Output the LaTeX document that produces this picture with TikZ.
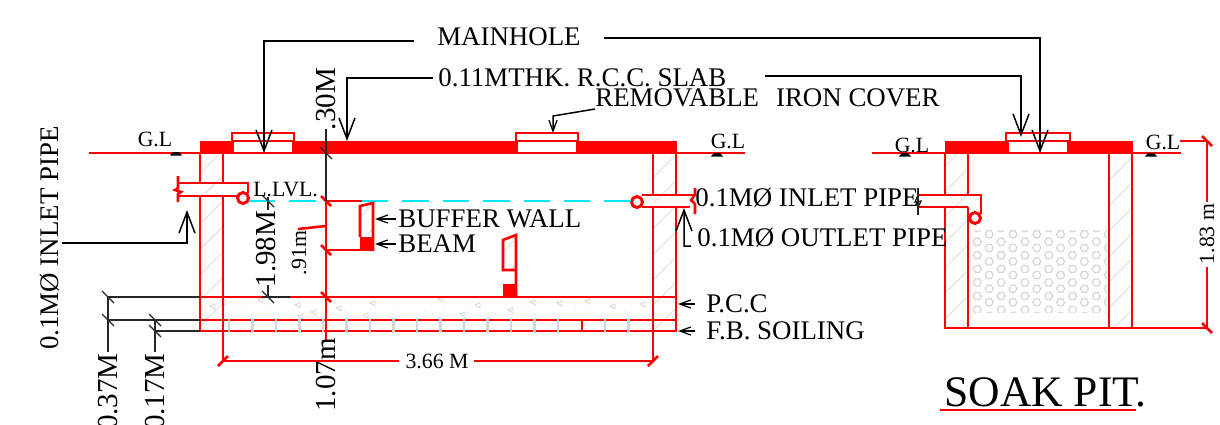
\documentclass[tikz,border=0pt]{standalone}
\usepackage{fontspec}
\setmainfont{Liberation Serif}
\usetikzlibrary{arrows.meta,patterns.meta}
\definecolor{hatchgray}{gray}{0.84}
\definecolor{levelcyan}{RGB}{0,235,245}
\newcommand{\stone}[2]{\draw[hatchgray,line width=0.7pt] (#1+4,#2) -- (#1+2,#2+3.5) -- (#1-2,#2+3.5) -- (#1-4,#2) -- (#1-2,#2-3.5) -- (#1+2,#2-3.5) -- cycle;}
\tikzset{
  big/.style={inner sep=0pt,font=\fontsize{15.3}{15.3}\selectfont},
  tall/.style={inner sep=0pt,rotate=90,font=\fontsize{16.5}{16.5}\selectfont},
  small/.style={inner sep=0pt,font=\fontsize{12.4}{12.4}\selectfont},
  wall/.style={red,line width=1.45pt},
  thin black/.style={black!85,line width=0.75pt},
  leader/.style={black,line width=0.85pt},
  bigtip/.style={-{Straight Barb[length=0.42cm,width=0.32cm,line width=0.85pt]}},
  smalltip/.style={-{Straight Barb[length=0.22cm,width=0.16cm,line width=0.7pt]}},
  hatch/.style={pattern={Lines[angle=45,distance=0.36cm,line width=0.4pt]},pattern color=hatchgray},
  speck/.style={hatchgray,line width=0.5pt}
}
\begin{document}
\begin{tikzpicture}[x=0.02cm,y=-0.02cm]
  \clip (0,0) rectangle (1220,424);
  % wall hatching
  \path[hatch] (200,153) rectangle (223,331);
  \path[hatch] (653,153) rectangle (676,331);
  \path[hatch] (945,153) rectangle (968,328);
  \path[hatch] (1109,153) rectangle (1132,328);
  \path[hatch] (503,240) -- (516,235) -- (516,270) -- (503,270) -- cycle;
  \path[hatch] (360,206) -- (373,203) -- (373,237) -- (360,237) -- cycle;
  % stones in the pit
  \begin{scope}
    \clip (970,230.5) rectangle (1107,312.5);
    \foreach \col in {0,...,5}
      \foreach \row in {0,...,6}{
        \stone{977.3+\col*23.8}{228.1+\row*13.6}
        \stone{989.2+\col*23.8}{234.3+\row*13.6}
      }
  \end{scope}
  % p.c.c. specks
  \foreach \a/\b in {210/306,221/302,295/305,311/312,370/303,438/299,460/314,475/305,508/310,530/302,557/303,585/301,610/306,640/304,363/315,336/308,258/300,298/316}
    \draw[speck] (\a,\b) -- ++(5,-2) -- ++(0,5) -- cycle;
  \foreach \a/\b in {240/311,252/314,268/309,282/313,345/311,352/316,395/309,410/315,425/311,445/308,490/313,520/311,547/316,575/309,600/314,625/311,660/315,668/302}
    \fill[hatchgray] (\a,\b) circle (0.7);

  % main tank
  \fill[red] (200,141) rectangle (677,153);
  \draw[wall] (89,153) -- (745,153);
  \draw[wall] (200,153) -- (200,183);
  \draw[wall] (200,196) -- (200,331) -- (676,331) -- (676,207);
  \draw[wall] (676,195) -- (676,153);
  \draw[wall] (223,153) -- (223,183);
  \draw[wall] (223,196) -- (223,361);
  \draw[wall] (653,153) -- (653,195);
  \draw[wall] (653,207) -- (653,361);
  \draw[wall] (200,297) -- (676,297);
  \draw[wall] (200,320) -- (676,320);
  \draw[wall] (582,320) -- (582,331);
  \foreach \i in {0,...,14,16,17}
    \draw[hatchgray,line width=1.2pt] (229+\i*23.5,318.5) -- (229+\i*23.5,332.5);
  % covers
  \foreach \a in {232,516}{
    \draw[wall,fill=white] (\a,133) rectangle (\a+62,141);
    \draw[wall,fill=white] (\a+1,141) rectangle (\a+61,153);
  }
  % pipes
  \draw[wall] (178,183) -- (248,183) -- (248,193);
  \draw[wall] (178,196) -- (237,196);
  \draw[wall] (178,176) -- (178,188) -- (175,190) -- (181,192) -- (178,194) -- (178,202);
  \draw[wall,line width=1.7pt,fill=white] (243,198) circle (5.5);
  \draw[wall] (642,195) -- (695,195);
  \draw[wall] (642,207) -- (690,207);
  \draw[wall] (695,188) -- (695,195) -- (691,200) -- (695,204) -- (695,214);
  \draw[wall,line width=1.7pt,fill=white] (637,202) circle (5.5);
  % liquid level
  \draw[levelcyan,line width=1pt,dash pattern=on 15pt off 8pt] (249,201) -- (326,201);
  \draw[levelcyan,line width=1pt,dash pattern=on 15pt off 8pt] (362,201) -- (632,201);
  % buffer walls
  \draw[wall] (326,201) -- (362,201);
  \draw[wall] (326,250) -- (360,250);
  \draw[wall] (298,229) -- (326,226);
  \draw[wall] (326,201) -- (326,340);
  \draw[wall] (360,237) -- (360,206) -- (373,203) -- (373,251);
  \fill[red] (360,237) rectangle (373,251);
  \draw[wall] (516,297) -- (516,235) -- (503,240) -- (503,270) -- (516,270);
  \fill[red] (503,284) rectangle (516,297);
  % dimensions in red
  \draw[wall] (223,361) -- (399,361);
  \draw[wall] (474,361) -- (653,361);
  \foreach \a/\b in {326/201,326/250,326/297}
    \draw[wall] (\a-5,\b-5) -- (\a+5,\b+5);
  \foreach \a/\b in {223/361,653/361}
    \draw[wall] (\a-5,\b+5) -- (\a+5,\b-5);

  % soak pit
  \fill[red] (945,141) rectangle (1133,153);
  \draw[wall] (872,153) -- (1181,153);
  \draw[wall] (945,153) -- (945,195);
  \draw[wall] (945,207) -- (945,328) -- (1207,328);
  \draw[wall] (968,153) -- (968,195);
  \draw[wall] (968,207) -- (968,328);
  \draw[wall] (1109,153) -- (1109,328);
  \draw[wall] (1132,153) -- (1132,328);
  \draw[wall,fill=white] (1006,133) rectangle (1070,141);
  \draw[wall,fill=white] (1008,141) rectangle (1068,153);
  \draw[wall] (918,195) -- (981,195) -- (981,214);
  \draw[wall] (918,207) -- (968,207);
  \draw[wall,line width=1.7pt,fill=white] (975,218) circle (5.5);
  \draw[wall] (1180,141) -- (1207,141) -- (1207,202);
  \draw[wall] (1207,267) -- (1207,328);
  \foreach \a/\b in {1207/141,1207/328}
    \draw[wall] (\a-5,\b-5) -- (\a+5,\b+5);

  % ground marks
  \foreach \a/\b in {176/154,717/155,905/155,1151/155}
    \fill[black] (\a-6,\b+1.5) -- (\a-3,\b-2) -- (\a+3,\b-2) -- (\a+6,\b+1.5) -- cycle;

  % black dimension lines
  \draw[thin black] (326,129) -- (326,201);
  \draw[thin black] (268,197) -- (268,210);
  \draw[thin black] (268,285) -- (268,297);
  \draw[thin black] (262,297) -- (290,297);
  \draw[thin black] (108,297) -- (200,297);
  \draw[thin black] (108,320) -- (200,320);
  \draw[thin black] (155,331) -- (200,331);
  \draw[thin black] (108,297) -- (108,352);
  \draw[thin black] (155,320) -- (155,352);
  \foreach \a/\b in {326/153,268/201,268/297,108/297,108/320,155/320,155/331}
    \draw[thin black] (\a-6,\b-6) -- (\a+6,\b+6);
  \draw[thin black] (918,188) -- (918,215);
  \draw[thin black] (918,195) -- (915,202) -- (921,201) -- (918,207);

  % labels
  \node[big] (mainhole) at (509,37) {MAINHOLE};
  \node[big,anchor=west] (slab) at (438,78) {0.11MTHK. R.C.C. SLAB};
  \node[big,anchor=west] (cover) at (595,98) {REMOVABLE\ \ \hspace{2pt}IRON COVER};
  \node[big,anchor=west] (bufferwall) at (398,219) {BUFFER WALL};
  \node[big,anchor=west] (beam) at (398,244) {BEAM};
  \node[big,anchor=west] (pcc) at (706,304) {P.C.C};
  \node[big,anchor=west] (soiling) at (706,331) {F.B. SOILING};
  \node[big,anchor=west] (inlet) at (695,198) {0.1MØ INLET PIPE};
  \node[big,anchor=west] (outlet) at (697,238) {0.1MØ OUTLET PIPE};
  \node[big,rotate=90] (leftinlet) at (50,238) {0.1MØ INLET PIPE};
  \node[tall] (rcc) at (326,99) {.30M};
  \node[tall] (floor) at (326,375) {1.07m};
  \node[tall] (depth) at (266,249) {1.98M};
  \node[tall,anchor=east] (pccdim) at (108,353) {0.37M};
  \node[tall,anchor=east] (soildim) at (155,353) {0.17M};
  \node[small,rotate=90] (buffer) at (299,253) {.91m};
  \node[small,anchor=west] (level) at (253,190) {L.LVL.};
  \node[small] (width) at (437,361) {3.66 M};
  \node[small,rotate=90] (pitdepth) at (1207,234) {1.83 m};
  \node[small] (gl1) at (155,139) {G.L};
  \node[small] (gl2) at (728,141) {G.L};
  \node[small] (gl3) at (912,145) {G.L};
  \node[small] (gl4) at (1163,142) {G.L};
  \node[inner sep=0pt,anchor=west,font=\fontsize{24.8}{24.8}\selectfont] (title) at (944,392) {SOAK PIT.};
  \draw[wall] (940,410) -- (1136,410);

  % leaders
  \coordinate (mhleft) at (414,41);
  \coordinate (mhright) at (604,38);
  \coordinate (mhtipa) at (264,153);
  \coordinate (mhtipb) at (1040,153);
  \coordinate (slabtipa) at (347,141);
  \coordinate (slabend) at (765,76);
  \coordinate (slabtipb) at (1021,137);
  \coordinate (covertip) at (553,133);
  \coordinate (coverbend) at (553,116);
  \coordinate (pipestart) at (62,243);
  \coordinate (pipetip) at (187,210);
  \coordinate (outletbend) at (684,246);
  \coordinate (outlettip) at (684,208);
  \draw[leader,bigtip] (mhleft) -| (mhtipa);
  \draw[leader,bigtip] (mhright) -| (mhtipb);
  \draw[leader,bigtip] ([xshift=-0.1cm]slab.west) -| (slabtipa);
  \draw[leader,bigtip] (slabend) -| (slabtipb);
  \draw[leader,smalltip] ([yshift=-0.22cm]cover.west) -- (coverbend) -- (covertip);
  \draw[leader,bigtip] (pipestart) -| (pipetip);
  \draw[leader,bigtip] ([xshift=-0.12cm,yshift=-0.16cm]outlet.west) -- (outletbend) -- (outlettip);
  \draw[leader,smalltip] ([xshift=-0.04cm]bufferwall.west) -- (375,219);
  \draw[leader,smalltip] ([xshift=-0.04cm]beam.west) -- (375,244);
  \draw[leader,smalltip] ([xshift=-0.22cm]pcc.west) -- (678,304);
  \draw[leader,smalltip] ([xshift=-0.22cm]soiling.west) -- (678,331);
\end{tikzpicture}
\end{document}
